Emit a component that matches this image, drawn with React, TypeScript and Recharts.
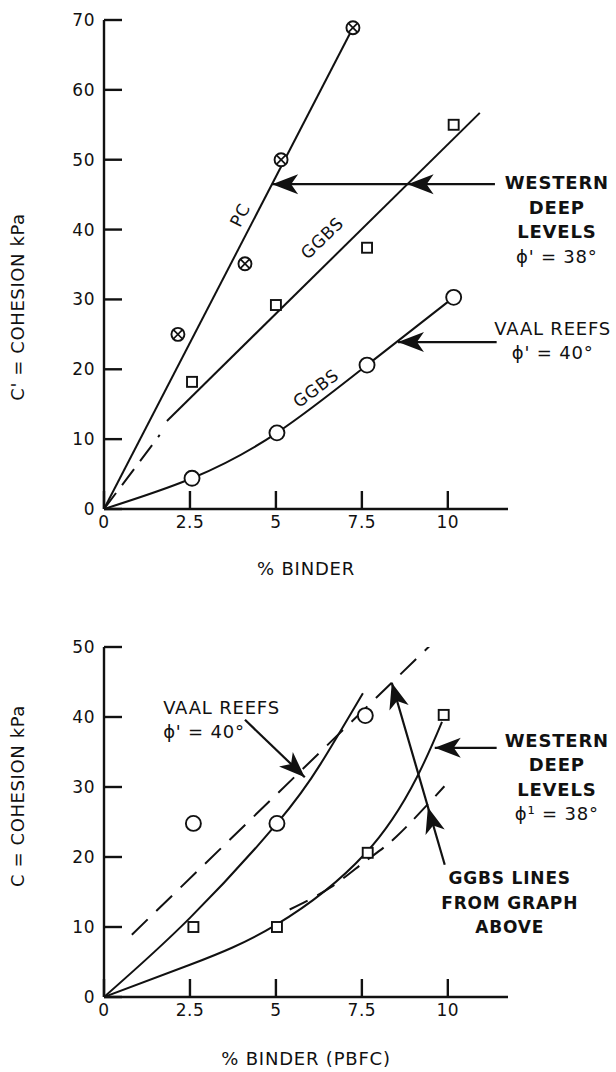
import React from "react";
import { ComposedChart, Line, Scatter, XAxis, YAxis, ReferenceLine, ReferenceDot } from "recharts";

const FONT = "'DejaVu Sans', Arial, sans-serif";
const INK = "#111";

// ---- top graph: C' vs % binder ----
const xTicks = [0, 2.5, 5, 7.5, 10];
const topYTicks = [0, 10, 20, 30, 40, 50, 60, 70];

const pcPoints = [
  { x: 2.15, y: 25 },
  { x: 4.1, y: 35.1 },
  { x: 5.15, y: 50 },
  { x: 7.24, y: 68.9 },
];
const pcLine = [
  { x: 0, y: 0 },
  { x: 7.24, y: 68.9 },
];
const wdlPoints = [
  { x: 2.56, y: 18.2 },
  { x: 5.0, y: 29.2 },
  { x: 7.65, y: 37.4 },
  { x: 10.17, y: 55 },
];
const wdlDashed = [
  { x: 0, y: 0 },
  { x: 1.62, y: 10.6 },
];
const wdlLine = [
  { x: 1.83, y: 12.6 },
  { x: 10.93, y: 56.7 },
];
const vaalPoints = [
  { x: 2.56, y: 4.4 },
  { x: 5.03, y: 10.9 },
  { x: 7.65, y: 20.6 },
  { x: 10.17, y: 30.3 },
];
const vaalLine = [{ x: 0, y: 0 }, ...vaalPoints];

// ---- bottom graph: C vs % binder (PBFC) ----
const botYTicks = [0, 10, 20, 30, 40, 50];

const vaalPoints2 = [
  { x: 2.6, y: 24.8 },
  { x: 5.03, y: 24.8 },
  { x: 7.6, y: 40.2 },
];
const vaalCurve2 = [
  { x: 0, y: 0 },
  { x: 2.5, y: 11.3 },
  { x: 5.03, y: 24.8 },
  { x: 6.3, y: 33.3 },
  { x: 7.53, y: 43.4 },
];
const vaalDashed2 = [
  { x: 0.81, y: 8.9 },
  { x: 10.09, y: 53.1 },
];
const wdlPoints2 = [
  { x: 2.6, y: 10 },
  { x: 5.03, y: 10 },
  { x: 7.67, y: 20.6 },
  { x: 9.88, y: 40.3 },
];
const wdlCurve2 = [
  { x: 0, y: 0 },
  { x: 2.5, y: 4.6 },
  { x: 5, y: 10.3 },
  { x: 7.6, y: 20.5 },
  { x: 9.1, y: 31.4 },
  { x: 9.83, y: 39.3 },
];
const wdlDashed2 = [
  { x: 5.4, y: 12.5 },
  { x: 6.6, y: 15.7 },
  { x: 7.6, y: 19.4 },
  { x: 8.5, y: 22.9 },
  { x: 9.9, y: 30.1 },
];

// annotations (data coords), arrow angles in screen degrees
const topArrows = [
  { from: { x: 11.37, y: 46.5 }, to: { x: 4.89, y: 46.5 }, heads: [{ x: 4.89, y: 46.5 }, { x: 8.83, y: 46.5 }], angle: 180 },
  { from: { x: 11.42, y: 23.9 }, to: { x: 8.55, y: 23.9 }, heads: [{ x: 8.55, y: 23.9 }], angle: 180 },
];
const botArrows = [
  { from: { x: 4.1, y: 39.6 }, to: { x: 5.84, y: 31.4 }, heads: [{ x: 5.84, y: 31.4 }], angle: 43.5 },
  { from: { x: 11.42, y: 35.6 }, to: { x: 9.62, y: 35.6 }, heads: [{ x: 9.62, y: 35.6 }], angle: 180 },
  { from: { x: 9.91, y: 18.9 }, to: { x: 8.37, y: 44.9 }, heads: [{ x: 8.37, y: 44.9 }, { x: 9.42, y: 27.1 }], angle: -106.2 },
];

const topNotes = [
  { x: 13.17, y: 46.7, lines: ["WESTERN", "DEEP", "LEVELS", "ϕ' = 38°"], bold: [true, true, true, false], anchor: "middle", rotate: 0, size: 18 },
  { x: 13.05, y: 25.9, lines: ["VAAL REEFS", "ϕ' = 40°"], bold: [false, false], anchor: "middle", rotate: 0, size: 18 },
  { x: 3.95, y: 42.1, lines: ["PC"], bold: [false], anchor: "middle", rotate: -63, size: 17 },
  { x: 6.34, y: 38.8, lines: ["GGBS"], bold: [false], anchor: "middle", rotate: -44, size: 17 },
  { x: 6.16, y: 17.3, lines: ["GGBS"], bold: [false], anchor: "middle", rotate: -37, size: 17 },
];
const botNotes = [
  { x: 1.72, y: 41.4, lines: ["VAAL REEFS", "ϕ' = 40°"], bold: [false, false], anchor: "start", rotate: 0, size: 18 },
  { x: 13.17, y: 36.7, lines: ["WESTERN", "DEEP", "LEVELS", "ϕ¹ = 38°"], bold: [true, true, true, false], anchor: "middle", rotate: 0, size: 18 },
  { x: 11.8, y: 17, lines: ["GGBS LINES", "FROM GRAPH", "ABOVE"], bold: [true, true, true], anchor: "middle", rotate: 0, size: 17 },
];

// ticks point inward, as in the original figure
const XTick = (props: any) => {
  const { x, y, payload } = props;
  return (
    <g>
      <line x1={x} y1={y} x2={x} y2={y - 18} stroke={INK} strokeWidth={2.4} />
      <text x={x} y={y + 19} textAnchor="middle" fontFamily={FONT} fontSize={17} letterSpacing={0.5} fill={INK}>
        {payload.value}
      </text>
    </g>
  );
};

const YTick = (props: any) => {
  const { x, y, payload } = props;
  return (
    <g>
      <line x1={x} y1={y} x2={x + 18} y2={y} stroke={INK} strokeWidth={2.4} />
      <text x={x - 9} y={y + 6} textAnchor="end" fontFamily={FONT} fontSize={17} letterSpacing={0.5} fill={INK}>
        {payload.value}
      </text>
    </g>
  );
};

const CrossCircle = (p: any) => {
  const { cx, cy } = p;
  const d = 4.4;
  return (
    <g>
      <circle cx={cx} cy={cy} r={6.5} fill="#fff" stroke={INK} strokeWidth={1.9} />
      <line x1={cx - d} y1={cy - d} x2={cx + d} y2={cy + d} stroke={INK} strokeWidth={1.7} />
      <line x1={cx - d} y1={cy + d} x2={cx + d} y2={cy - d} stroke={INK} strokeWidth={1.7} />
    </g>
  );
};
const Square = (p: any) => (
  <rect x={p.cx - 5} y={p.cy - 5} width={10} height={10} fill="#fff" stroke={INK} strokeWidth={1.9} />
);
const Ring = (p: any) => <circle cx={p.cx} cy={p.cy} r={7.5} fill="#fff" stroke={INK} strokeWidth={1.9} />;

const arrowHead = (angle: number) => (p: any) => (
  <polygon points="0,0 -26,-10 -19,0 -26,10" transform={`translate(${p.cx},${p.cy}) rotate(${angle})`} fill={INK} />
);

const note = (n: any) => (p: any) => (
  <text
    transform={`translate(${p.cx},${p.cy}) rotate(${n.rotate})`}
    fontFamily={FONT}
    fontSize={n.size}
    textAnchor={n.anchor}
    letterSpacing={0.8}
    fill={INK}
  >
    {n.lines.map((l: string, i: number) => (
      <tspan key={i} x={0} y={i * 24.5 + n.size * 0.36} fontWeight={n.bold[i] ? "bold" : "normal"}>
        {l}
      </tspan>
    ))}
  </text>
);

const xTitle = (text: string, dy: number) => (p: any) => {
  const vb = p.viewBox;
  return (
    <text x={vb.x + vb.width / 2} y={vb.y + dy} textAnchor="middle" fontFamily={FONT} fontSize={18} letterSpacing={0.8} fill={INK}>
      {text}
    </text>
  );
};
const yTitle = (text: string, cy: number) => (p: any) => {
  const vb = p.viewBox;
  return (
    <text
      transform={`translate(${vb.x + 18},${vb.y + cy}) rotate(-90)`}
      y={6}
      textAnchor="middle"
      fontFamily={FONT}
      fontSize={18}
      letterSpacing={0.6}
      fill={INK}
    >
      {text}
    </text>
  );
};

const lineProps = {
  type: "linear" as const,
  dataKey: "y",
  stroke: INK,
  strokeWidth: 2,
  dot: false,
  activeDot: false,
  isAnimationActive: false,
  legendType: "none" as const,
};

function Annotations(arrows: any[], notes: any[], prefix: string) {
  const out: any[] = [];
  arrows.forEach((a, i) => {
    out.push(
      <ReferenceLine
        key={`${prefix}-shaft-${i}`}
        segment={[a.from, a.to]}
        stroke={INK}
        strokeWidth={2.2}
        ifOverflow="visible"
      />
    );
    a.heads.forEach((h: any, j: number) => {
      out.push(
        <ReferenceDot key={`${prefix}-head-${i}-${j}`} x={h.x} y={h.y} r={1} ifOverflow="visible" shape={arrowHead(a.angle)} />
      );
    });
  });
  notes.forEach((n, i) => {
    out.push(<ReferenceDot key={`${prefix}-note-${i}`} x={n.x} y={n.y} r={1} ifOverflow="visible" shape={note(n)} />);
  });
  return out;
}

export default function App() {
  return (
    <div style={{ position: "absolute", left: 0, top: 0, width: 616, height: 1072, background: "#fff" }}>
      <div style={{ position: "absolute", left: 0, top: 0 }}>
        <ComposedChart width={616} height={590} margin={{ top: 20, right: 108, bottom: 0, left: 0 }}>
          <XAxis
            type="number"
            dataKey="x"
            domain={[0, 11.75]}
            allowDataOverflow
            ticks={xTicks}
            height={81}
            tickSize={0}
            tickMargin={0}
            tickLine={false}
            tick={XTick}
            axisLine={{ stroke: INK, strokeWidth: 2.4 }}
            label={{ content: xTitle("%  BINDER", 66) }}
          />
          <YAxis
            type="number"
            dataKey="y"
            domain={[0, 70]}
            allowDataOverflow
            ticks={topYTicks}
            width={104}
            tickSize={0}
            tickMargin={0}
            tickLine={false}
            tick={YTick}
            axisLine={{ stroke: INK, strokeWidth: 2.4 }}
            label={{ content: yTitle("C' = COHESION  kPa", 287) }}
          />
          <Line {...lineProps} data={pcLine} name="PC" />
          <Line {...lineProps} data={wdlDashed} strokeDasharray="20 10" name="GGBS WDL dashed" />
          <Line {...lineProps} data={wdlLine} name="GGBS WDL" />
          <Line {...lineProps} type="natural" data={vaalLine} name="GGBS Vaal" />
          <Scatter data={pcPoints} dataKey="y" shape={CrossCircle} isAnimationActive={false} />
          <Scatter data={wdlPoints} dataKey="y" shape={Square} isAnimationActive={false} />
          <Scatter data={vaalPoints} dataKey="y" shape={Ring} isAnimationActive={false} />
          {Annotations(topArrows, topNotes, "t")}
        </ComposedChart>
      </div>
      <div style={{ position: "absolute", left: 0, top: 590 }}>
        <ComposedChart width={616} height={482} margin={{ top: 57, right: 108, bottom: 0, left: 0 }}>
          <XAxis
            type="number"
            dataKey="x"
            domain={[0, 11.75]}
            allowDataOverflow
            ticks={xTicks}
            height={75}
            tickSize={0}
            tickMargin={0}
            tickLine={false}
            tick={XTick}
            axisLine={{ stroke: INK, strokeWidth: 2.4 }}
            label={{ content: xTitle("%  BINDER  (PBFC)", 68) }}
          />
          <YAxis
            type="number"
            dataKey="y"
            domain={[0, 50]}
            allowDataOverflow
            ticks={botYTicks}
            width={104}
            tickSize={0}
            tickMargin={0}
            tickLine={false}
            tick={YTick}
            axisLine={{ stroke: INK, strokeWidth: 2.4 }}
            label={{ content: yTitle("C = COHESION  kPa", 149) }}
          />
          <Line {...lineProps} type="natural" data={vaalCurve2} name="Vaal PBFC" />
          <Line {...lineProps} data={vaalDashed2} strokeDasharray="22 12" name="Vaal GGBS above" />
          <Line {...lineProps} type="natural" data={wdlCurve2} name="WDL PBFC" />
          <Line {...lineProps} type="natural" data={wdlDashed2} strokeDasharray="20 11" name="WDL GGBS above" />
          <Scatter data={vaalPoints2} dataKey="y" shape={Ring} isAnimationActive={false} />
          <Scatter data={wdlPoints2} dataKey="y" shape={Square} isAnimationActive={false} />
          {Annotations(botArrows, botNotes, "b")}
        </ComposedChart>
      </div>
    </div>
  );
}
